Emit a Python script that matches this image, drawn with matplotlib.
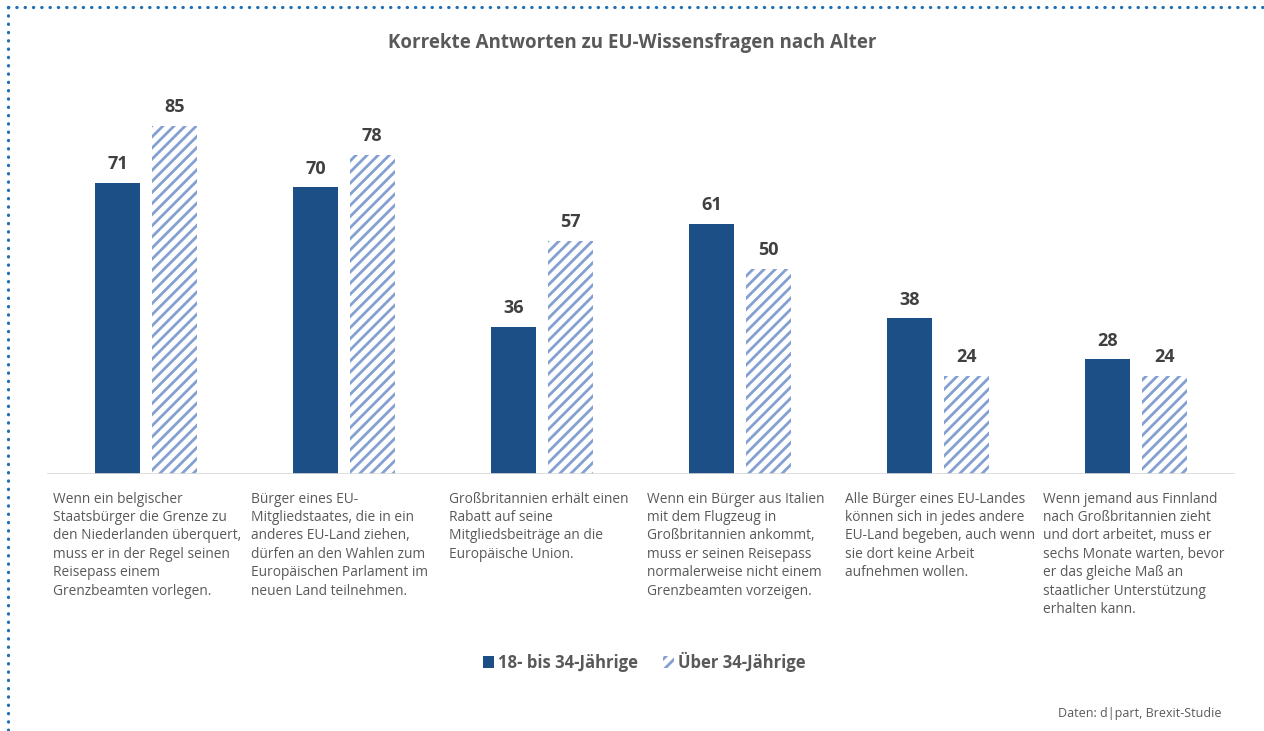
#!/usr/bin/env python
"""
Korrekte Antworten zu EU-Wissensfragen nach Alter (Brexit-Studie).
"""

import numpy as np
import matplotlib.pyplot as plt
from matplotlib.lines import Line2D
from matplotlib.patches import Patch

questions = [
    "Wenn ein belgischer\nStaatsbürger die Grenze zu\nden Niederlanden überquert,\n"
    "muss er in der Regel seinen\nReisepass einem\nGrenzbeamten vorlegen.",
    "Bürger eines EU-\nMitgliedstaates, die in ein\nanderes EU-Land ziehen,\n"
    "dürfen an den Wahlen zum\nEuropäischen Parlament im\nneuen Land teilnehmen.",
    "Großbritannien erhält einen\nRabatt auf seine\nMitgliedsbeiträge an die\n"
    "Europäische Union.",
    "Wenn ein Bürger aus Italien\nmit dem Flugzeug in\nGroßbritannien ankommt,\n"
    "muss er seinen Reisepass\nnormalerweise nicht einem\nGrenzbeamten vorzeigen.",
    "Alle Bürger eines EU-Landes\nkönnen sich in jedes andere\nEU-Land begeben, auch wenn\n"
    "sie dort keine Arbeit\naufnehmen wollen.",
    "Wenn jemand aus Finnland\nnach Großbritannien zieht\nund dort arbeitet, muss er\n"
    "sechs Monate warten, bevor\ner das gleiche Maß an\nstaatlicher Unterstützung\nerhalten kann.",
]
junge = [71, 70, 36, 61, 38, 28]
aeltere = [85, 78, 57, 50, 24, 24]
series_labels = ["18- bis 34-Jährige", "Über 34-Jährige"]

DARK = "#1c4f86"
HATCH = "#84a0d2"
TEXT = "#595959"

plt.rcParams["font.family"] = ["Open Sans", "DejaVu Sans"]
plt.rcParams["hatch.linewidth"] = 2.0

fig = plt.figure(figsize=(12.64, 7.31), dpi=100)
ax = fig.add_axes([0.0372, 0.3516, 0.9398, 0.5255])

x = np.arange(len(questions))
w = 0.227
off = 0.143

b1 = ax.bar(x - off, junge, width=w, color=DARK, linewidth=0)
b2 = ax.bar(x + off, aeltere, width=w, color="white", edgecolor=HATCH,
            hatch="///", linewidth=0)

for bars, vals in ((b1, junge), (b2, aeltere)):
    for bar, v in zip(bars, vals):
        ax.annotate(str(v), (bar.get_x() + bar.get_width() / 2, v),
                    xytext=(0, 7), textcoords="offset points",
                    ha="center", va="bottom", fontsize=13,
                    fontweight="bold", color="#404040")

ax.set_xlim(-0.5, len(questions) - 0.5)
ax.set_ylim(0, 93.8)
ax.axis("off")
ax.axhline(0, color="#d9d9d9", linewidth=1.2)

for i, q in enumerate(questions):
    ax.text(i - 0.47, -4.3, q, ha="left", va="top", fontsize=9.9,
            color=TEXT, linespacing=1.31)

fig.text(0.5, 1 - 43 / 731, "Korrekte Antworten zu EU-Wissensfragen nach Alter",
         ha="center", va="center", fontsize=13.5, fontweight="bold",
         color=TEXT)

handles = [Patch(facecolor=DARK, linewidth=0),
           Patch(facecolor="white", edgecolor=HATCH, hatch="///", linewidth=0)]
leg = fig.legend(handles, series_labels, loc="center",
                 bbox_to_anchor=(0.5095, 1 - 662 / 731), ncol=2, frameon=False,
                 handlelength=0.7, handleheight=0.7, handletextpad=0.2,
                 columnspacing=1.5,
                 prop={"size": 12, "weight": "bold"})
for t in leg.get_texts():
    t.set_color(TEXT)

fig.text(1222 / 1264, 1 - 713 / 731, "Daten: d|part, Brexit-Studie",
         ha="right", va="center", fontsize=9, color=TEXT)

# dotted frame along the top and left edge
border = dict(color="#1f6fb2", linewidth=2.3, linestyle=(0, (0.1, 2.5)),
              dash_capstyle="round", transform=fig.transFigure)
fig.add_artist(Line2D([8 / 1264, 1], [1 - 7 / 731, 1 - 7 / 731], **border))
fig.add_artist(Line2D([8 / 1264, 8 / 1264], [1 - 7 / 731, 0], **border))

fig.savefig("out.png", dpi=100)
